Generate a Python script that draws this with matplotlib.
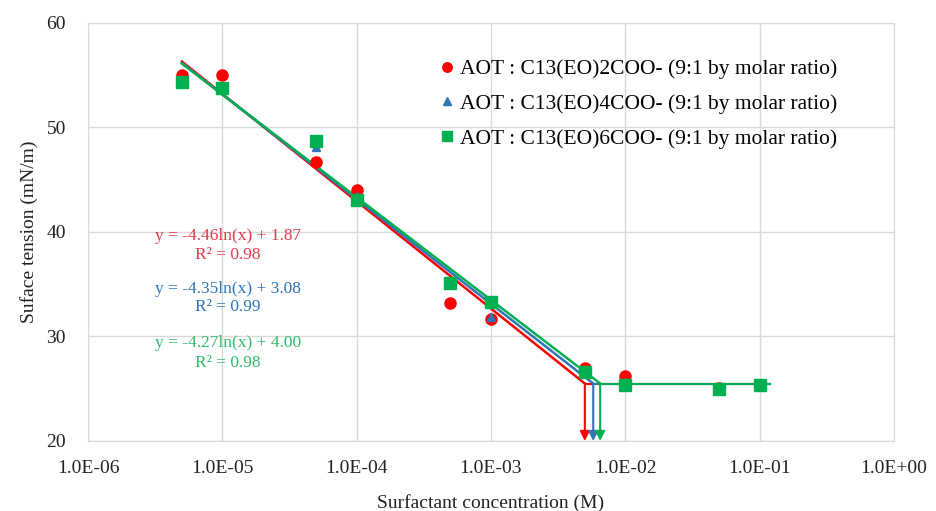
import numpy as np
import matplotlib.pyplot as plt

plt.rcParams['font.family'] = ['Liberation Serif', 'DejaVu Serif']

conc = [5e-6, 1e-5, 5e-5, 1e-4, 5e-4, 1e-3, 5e-3, 1e-2, 5e-2, 1e-1]
st_eo2 = [55.0, 55.0, 46.7, 44.0, 33.2, 31.7, 27.0, 26.2, 25.1, 25.4]
st_eo4 = [54.5, 53.8, 48.1, 43.4, 35.0, 31.9, 26.8, 25.6, 25.0, 25.4]
st_eo6 = [54.4, 53.8, 48.7, 43.1, 35.1, 33.3, 26.6, 25.4, 25.0, 25.4]

labels = ['AOT : C13(EO)2COO- (9:1 by molar ratio)',
          'AOT : C13(EO)4COO- (9:1 by molar ratio)',
          'AOT : C13(EO)6COO- (9:1 by molar ratio)']
slopes = [-4.46, -4.35, -4.27]
intercepts = [1.87, 3.08, 4.00]
r2 = ['0.98', '0.99', '0.98']
plateau = 25.5
x_start, x_end = 5e-6, 0.12

colors = ['#FF0000', '#2E75B6', '#00B050']
text_colors = ['#E8394A', '#2E75B6', '#2DBE6C']
markers = ['o', '^', 's']
msizes = [8, 6, 8]

fig, ax = plt.subplots(figsize=(9.36, 5.11), dpi=100)
fig.subplots_adjust(left=0.094, right=0.955, bottom=0.137, top=0.955)

series = [st_eo2, st_eo4, st_eo6]
for i in range(3):
    xb = np.exp((plateau - intercepts[i]) / slopes[i])
    xs = np.array([x_start, xb])
    ax.plot(xs, slopes[i] * np.log(xs) + intercepts[i], color=colors[i], lw=1.8, zorder=2)
    ax.plot([xb, x_end], [plateau, plateau], color=colors[i], lw=1.5, zorder=2)
    ax.annotate('', xy=(xb, 20), xytext=(xb, plateau),
                arrowprops=dict(arrowstyle='-|>', color=colors[i], lw=1.5,
                                mutation_scale=14, shrinkA=0, shrinkB=0), zorder=3)

for i in range(3):
    ax.plot(conc, series[i], linestyle='none', marker=markers[i], ms=msizes[i],
            color=colors[i], label=labels[i], zorder=4 + i)

ax.set_xscale('log')
ax.set_xlim(1e-6, 1e0)
ax.set_ylim(20, 60)
ax.set_yticks([20, 30, 40, 50, 60])
ax.set_xticks([1e-6, 1e-5, 1e-4, 1e-3, 1e-2, 1e-1, 1e0])
ax.set_xticklabels(['1.0E-06', '1.0E-05', '1.0E-04', '1.0E-03', '1.0E-02', '1.0E-01', '1.0E+00'])
ax.minorticks_off()
ax.tick_params(length=0, labelsize=14, colors='#222222')
ax.tick_params(axis='x', pad=14)
ax.tick_params(axis='y', pad=16)
ax.grid(True, color='#D9D9D9', lw=1)
ax.set_axisbelow(True)
for s in ax.spines.values():
    s.set_color('#D9D9D9')

ax.set_xlabel('Surfactant concentration (M)', fontsize=14, color='#222222', labelpad=12)
ax.set_ylabel('Suface tension (mN/m)', fontsize=14, color='#222222', labelpad=6)

eq_y = [(39.6, 37.8), (34.5, 32.8), (29.4, 27.5)]
for i in range(3):
    ax.text(1.1e-5, eq_y[i][0], 'y = %.2fln(x) + %.2f' % (slopes[i], intercepts[i]),
            color=text_colors[i], fontsize=12.5, ha='center', va='center')
    ax.text(1.1e-5, eq_y[i][1], 'R² = ' + r2[i],
            color=text_colors[i], fontsize=12.5, ha='center', va='center')

ax.legend(loc='upper left', bbox_to_anchor=(0.405, 0.96), frameon=False, fontsize=15.5,
          handletextpad=0.0, handlelength=1.2, labelspacing=0.68, markerscale=0.85)

plt.savefig('out.png')
